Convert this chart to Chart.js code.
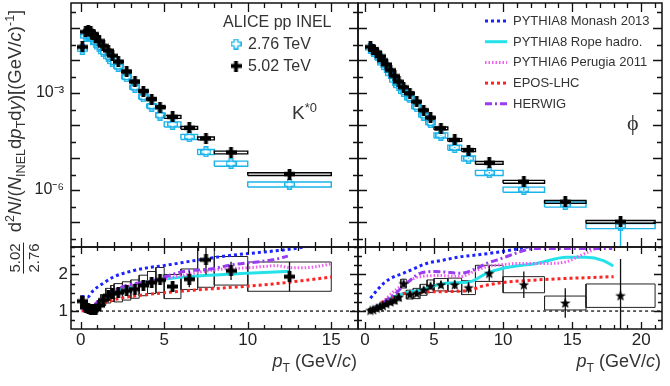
<!DOCTYPE html>
<html>
<head>
<meta charset="utf-8">
<title>K*0 and phi spectra in pp at 2.76 and 5.02 TeV</title>
<script src="https://cdn.jsdelivr.net/npm/chart.js@4.4.1/dist/chart.umd.min.js"></script>
<style>
  html, body { margin: 0; padding: 0; background: #fff; }
  #plot { position: relative; width: 670px; height: 386px; overflow: hidden;
          font-family: 'Liberation Sans', Arial, Helvetica, sans-serif; color: #222; }
  #plot canvas { position: absolute; left: 0; top: 0; }
  .lbl { position: absolute; white-space: nowrap; line-height: 1; z-index: 2; }
  .lbl sub, .lbl sup { font-size: 68%; line-height: 0; }
  .rot { transform: translate(-50%, -50%) rotate(-90deg); }
  .frac { display: inline-flex; flex-direction: column; align-items: center; }
  .frac span:first-child { border-bottom: 1.4px solid #222; padding: 0 1px 1px; }
  .frac span:last-child { padding-top: 2px; }
</style>
</head>
<body>
<div id="plot">
  <canvas id="kstarSpec" width="670" height="386"></canvas>
  <canvas id="phiSpec" width="670" height="386"></canvas>
  <canvas id="kstarRatio" width="670" height="386"></canvas>
  <canvas id="phiRatio" width="670" height="386"></canvas>

  <div class="lbl rot" style="left:15px; top:121px; font-size:18.5px; color:#333;">d<sup>2</sup><i>N</i>/(<i>N</i><sub>INEL</sub>d<i>p</i><sub>T</sub>d<i>y</i>)[(GeV/<i>c</i>)<sup>-1</sup>]</div>
  <div class="lbl rot" style="left:24px; top:258px; font-size:15px; color:#333;"><div class="frac"><span>5.02</span><span>2.76</span></div></div>

  <div class="lbl" style="left:223px; top:14px; font-size:16px; color:#333;">ALICE pp INEL</div>
  <div class="lbl" style="left:248px; top:36px; font-size:16px; color:#333;">2.76 TeV</div>
  <div class="lbl" style="left:248px; top:58px; font-size:16px; color:#333;">5.02 TeV</div>
  <div class="lbl" style="left:292px; top:103px; font-size:19px; color:#333;">K<sup>*0</sup></div>
  <div class="lbl" style="left:627px; top:112px; font-size:22px; color:#333; font-family:'Liberation Serif','DejaVu Serif',serif;">&#981;</div>

  <div id="modelLegend"></div>

  <div class="lbl" style="right:313px; top:352px; font-size:18px; color:#333;"><i>p</i><sub>T</sub> (GeV/<i>c</i>)</div>
  <div class="lbl" style="right:9px; top:352px; font-size:18px; color:#333;"><i>p</i><sub>T</sub> (GeV/<i>c</i>)</div>
</div>

<script>
// ========================================
// DATA
// ========================================

// K*0 pT bin edges (GeV/c) and spectra
const kstarEdges = [0, 0.2, 0.4, 0.5, 0.7, 0.8, 1.0, 1.2, 1.5, 1.8, 2.0, 2.5, 3.0, 3.5, 4.0, 4.5, 5.0, 6.0, 7.0, 8.0, 10.0, 15.0];
const kstar276 = [0.022, 0.056, 0.060, 0.054, 0.045, 0.035, 0.026, 0.0185, 0.0130, 0.0091, 0.0066, 0.0031, 0.00148, 7.5e-4, 3.9e-4, 2.05e-4, 1.07e-4, 4.4e-5, 1.5e-5, 6.6e-6, 1.5e-6];
const kstar502 = [0.026, 0.076, 0.081, 0.076, 0.065, 0.051, 0.040, 0.028, 0.020, 0.0139, 0.0091, 0.0045, 0.0022, 0.00113, 6.4e-4, 3.6e-4, 1.8e-4, 8.3e-5, 3.9e-5, 1.44e-5, 3.1e-6];
const kstarRatio = [1.27, 1.1, 1.07, 1.04, 1.03, 1.05, 1.15, 1.3, 1.42, 1.48, 1.5, 1.55, 1.6, 1.7, 1.78, 1.85, 1.67, 1.87, 2.4, 2.1, 1.94];
const kstarRatioStat = [0.05, 0.04, 0.03, 0.03, 0.03, 0.03, 0.03, 0.03, 0.03, 0.04, 0.04, 0.05, 0.06, 0.07, 0.08, 0.1, 0.12, 0.22, 0.4, 0.25, 0.4];
const kstarRatioSys = [0.15, 0.1, 0.08, 0.08, 0.08, 0.1, 0.12, 0.15, 0.2, 0.22, 0.25, 0.25, 0.25, 0.28, 0.3, 0.34, 0.33, 0.28, 0.75, 0.39, 0.4];

// phi pT bin edges (GeV/c) and spectra
const phiEdges = [0.3, 0.5, 0.7, 1.0, 1.2, 1.4, 1.7, 2.0, 2.3, 2.6, 3.0, 3.5, 4.0, 4.5, 5.0, 6.0, 7.0, 8.0, 10.0, 13.0, 16.0, 21.0];
const phi276 = [0.024, 0.0195, 0.0151, 0.0114, 0.0083, 0.0060, 0.0039, 0.00245, 0.00166, 0.00109, 6.9e-4, 3.7e-4, 2.05e-4, 1.19e-4, 4.9e-5, 2.05e-5, 9.5e-6, 3.4e-6, 1.04e-6, 3.6e-7, 7.8e-8];
const phi276StatRel = [0.01, 0.01, 0.01, 0.01, 0.01, 0.01, 0.01, 0.01, 0.01, 0.01, 0.01, 0.01, 0.01, 0.02, 0.02, 0.03, 0.04, 0.06, 0.1, 0.2, 0.95];
const phi502 = [0.026, 0.022, 0.0177, 0.0135, 0.0102, 0.0075, 0.0050, 0.0033, 0.0022, 0.00148, 9.6e-4, 5.3e-4, 2.9e-4, 1.7e-4, 8.0e-5, 3.5e-5, 1.7e-5, 6.9e-6, 1.8e-6, 4.3e-7, 1.04e-7];
const phiRatio = [1.02, 1.04, 1.08, 1.12, 1.15, 1.2, 1.25, 1.3, 1.38, 1.75, 1.45, 1.48, 1.58, 1.68, 1.72, 1.72, 1.64, 2.03, 1.72, 1.22, 1.42];
const phiRatioStat = [0.02, 0.02, 0.02, 0.02, 0.02, 0.03, 0.03, 0.04, 0.05, 0.08, 0.06, 0.07, 0.08, 0.09, 0.1, 0.12, 0.15, 0.2, 0.36, 0.4, 1.0];
const phiRatioSys = [0.05, 0.05, 0.06, 0.06, 0.07, 0.08, 0.08, 0.1, 0.1, 0.12, 0.12, 0.14, 0.15, 0.17, 0.17, 0.18, 0.19, 0.22, 0.22, 0.19, 0.32];

// relative systematic uncertainty of the spectra (box heights)
const sysRel502 = 0.1;
const sysRel276 = 0.18;

// model ratios 5.02/2.76, K*0
const monashKPt = [0.05, 0.4, 0.75, 1.35, 1.95, 2.95, 3.95, 4.95, 6.95, 8.95, 10.9, 12.7, 13.9];
const monashK = [1.4, 1.38, 1.56, 1.76, 1.93, 2.08, 2.18, 2.24, 2.39, 2.52, 2.61, 2.7, 2.79];
const ropeKPt = [0.05, 0.55, 1.35, 2.35, 3.75, 5.55, 7.75, 9.95, 12.5];
const ropeK = [1.1, 1.06, 1.33, 1.57, 1.78, 1.9, 1.98, 2.03, 2.09];
const perugiaKPt = [0.1, 0.5, 1.0, 1.75, 2.75, 3.75, 4.75, 6.0, 7.35, 8.5, 9.95, 11.0, 11.7, 12.7, 13.9, 15.0];
const perugiaK = [1.05, 1.05, 1.25, 1.47, 1.66, 1.78, 1.86, 1.97, 2.08, 2.15, 2.18, 2.22, 2.24, 2.18, 2.2, 2.29];
const eposKPt = [0.05, 0.5, 1.55, 2.5, 3.75, 5.0, 6.75, 8.5, 9.95, 11.5, 12.7, 15.0];
const eposK = [1.0, 1.04, 1.25, 1.36, 1.44, 1.5, 1.57, 1.63, 1.68, 1.74, 1.8, 1.93];
const herwigKPt = [0.1, 0.5, 1.0, 1.75, 2.75, 4.15, 6.15, 7.75, 9.15, 11.5, 12.4];
const herwigK = [1.05, 1.05, 1.25, 1.49, 1.7, 1.81, 2.08, 2.15, 2.27, 2.4, 2.5];

// model ratios 5.02/2.76, phi
const monashPhiPt = [0.4, 0.9, 1.33, 2.0, 2.77, 3.5, 4.46, 5.5, 6.87, 8.0, 9.28, 11.2, 12.1];
const monashPhi = [1.35, 1.58, 1.75, 1.92, 2.03, 2.15, 2.3, 2.38, 2.48, 2.53, 2.59, 2.71, 2.78];
const ropePhiPt = [0.45, 1.2, 2.05, 3.0, 3.98, 5.67, 7.0, 7.6, 8.8, 10.0, 12.4, 14.6, 16.0, 17.25, 17.97];
const ropePhi = [1.05, 1.2, 1.38, 1.5, 1.57, 1.75, 1.78, 1.8, 2.03, 2.17, 2.3, 2.47, 2.47, 2.38, 2.23];
const perugiaPhiPt = [0.45, 1.2, 2.05, 3.0, 3.98, 5.5, 6.87, 8.0, 8.8, 10.0, 11.2, 13.15, 14.6, 15.5, 16.5, 17.2];
const perugiaPhi = [1.02, 1.22, 1.52, 1.78, 1.94, 1.97, 1.94, 2.1, 2.21, 2.27, 2.3, 2.3, 2.35, 2.5, 2.67, 2.8];
const eposPhiPt = [0.45, 1.5, 2.5, 3.3, 5.5, 7.6, 8.5, 10.0, 12.0, 14.0, 18.0];
const eposPhi = [1.02, 1.3, 1.45, 1.5, 1.53, 1.57, 1.68, 1.78, 1.84, 1.88, 1.94];
const herwigPhiPt = [0.45, 1.2, 2.05, 3.0, 3.98, 5.0, 5.67, 6.87, 8.0, 8.8, 10.0, 11.0, 12.2, 13.6, 16.0, 17.9];
const herwigPhi = [1.02, 1.2, 1.43, 1.75, 2.03, 2.08, 2.07, 2.03, 2.15, 2.3, 2.45, 2.59, 2.71, 2.71, 2.71, 2.71];

// tick labels
const xTicksLeft = [0, 5, 10, 15];
const xTicksRight = [0, 5, 10, 15, 20];
const yTicksSpectra = [1e-3, 1e-6];
const yTicksRatio = [1, 2];

// ========================================
// STYLES
// ========================================

const CYAN = '#1bb4ea';
const BLACK = '#000';

const models = [
    { label: 'PYTHIA8 Monash 2013', color: '#1c22ff', dash: [3, 3], k: [monashKPt, monashK], phi: [monashPhiPt, monashPhi] },
    { label: 'PYTHIA8 Rope hadro.', color: '#25e2ea', dash: [], k: [ropeKPt, ropeK], phi: [ropePhiPt, ropePhi] },
    { label: 'PYTHIA6 Perugia 2011', color: '#f05ef0', dash: [1.5, 2], k: [perugiaKPt, perugiaK], phi: [perugiaPhiPt, perugiaPhi] },
    { label: 'EPOS-LHC', color: '#ff2424', dash: [3, 3], k: [eposKPt, eposK], phi: [eposPhiPt, eposPhi] },
    { label: 'HERWIG', color: '#9a3cf2', dash: [7, 3, 2, 3], k: [herwigKPt, herwigK], phi: [herwigPhiPt, herwigPhi] }
];

Chart.defaults.font.family = "'Liberation Sans', Arial, Helvetica, sans-serif";
Chart.defaults.color = '#222';

// ========================================
// MARKERS
// ========================================

function markerCross(color, filled) {
    const s = 11, a = 3.6, b = 7.4;
    const p = filled ? 0 : 0.7;
    const c = document.createElement('canvas');
    c.width = s; c.height = s;
    const g = c.getContext('2d');
    g.beginPath();
    g.moveTo(a, p); g.lineTo(b, p); g.lineTo(b, a); g.lineTo(s - p, a); g.lineTo(s - p, b);
    g.lineTo(b, b); g.lineTo(b, s - p); g.lineTo(a, s - p); g.lineTo(a, b); g.lineTo(p, b);
    g.lineTo(p, a); g.lineTo(a, a); g.closePath();
    if (filled) {
        g.fillStyle = color; g.fill();
    } else {
        g.strokeStyle = color; g.lineWidth = 1.4; g.stroke();
    }
    return c;
}

function markerStar(color) {
    const c = document.createElement('canvas');
    c.width = 12; c.height = 12;
    const g = c.getContext('2d');
    g.beginPath();
    for (let k = 0; k < 10; k++) {
        const r = k % 2 ? 2.3 : 5.6;
        const ang = -Math.PI / 2 + k * Math.PI / 5;
        g.lineTo(6 + r * Math.cos(ang), 6.4 + r * Math.sin(ang));
    }
    g.closePath();
    g.fillStyle = color; g.fill();
    return c;
}

const fullCross = markerCross(BLACK, true);
const openCross = markerCross(CYAN, false);
const fullStar = markerStar(BLACK);

// ========================================
// DATASET HELPERS
// ========================================

const centers = edges => edges.slice(0, -1).map((e, i) => (e + edges[i + 1]) / 2);

function boxOutline(edges, vals, lo, hi) {
    const pts = [];
    vals.forEach((v, i) => {
        const x0 = edges[i], x1 = edges[i + 1], y0 = lo(v, i), y1 = hi(v, i);
        pts.push({ x: x0, y: y0 }, { x: x1, y: y0 }, { x: x1, y: y1 }, { x: x0, y: y1 }, { x: x0, y: y0 }, { x: x0, y: null });
    });
    return pts;
}

function errorBars(xs, vals, lo, hi) {
    const pts = [];
    vals.forEach((v, i) => {
        pts.push({ x: xs[i], y: lo(v, i) }, { x: xs[i], y: hi(v, i) }, { x: xs[i], y: null });
    });
    return pts;
}

function lineSet(points, color, width, dash, order) {
    return {
        type: 'line', data: points, borderColor: color, borderWidth: width, borderDash: dash || [],
        pointRadius: 0, fill: false, tension: 0, spanGaps: false, order: order
    };
}

function curveSet(xs, ys, m, order) {
    return {
        type: 'line', data: xs.map((x, i) => ({ x: x, y: ys[i] })), borderColor: m.color, borderWidth: 3,
        borderDash: m.dash, borderCapStyle: 'butt', pointRadius: 0, fill: false,
        cubicInterpolationMode: 'monotone', order: order
    };
}

function markerSet(xs, ys, img, order) {
    return {
        type: 'scatter', data: xs.map((x, i) => ({ x: x, y: ys[i] })),
        pointStyle: img, pointRadius: 5, order: order
    };
}

// ========================================
// FRAME WITH INSIDE TICKS
// ========================================

function framePlugin(spec) {
    return {
        id: 'frame',
        afterDatasetsDraw(chart) {
            const ctx = chart.ctx, a = chart.chartArea;
            const xs = chart.scales.x, ys = chart.scales.y;
            ctx.save();
            ctx.strokeStyle = '#111';
            ctx.lineWidth = 1.3;
            ctx.beginPath();
            const xt = (v, len) => {
                const px = Math.round(xs.getPixelForValue(v)) + 0.5;
                if (px < a.left || px > a.right) return;
                ctx.moveTo(px, a.bottom); ctx.lineTo(px, a.bottom - len);
                ctx.moveTo(px, a.top); ctx.lineTo(px, a.top + len);
            };
            const yt = (v, len) => {
                const py = Math.round(ys.getPixelForValue(v)) + 0.5;
                if (py < a.top || py > a.bottom) return;
                ctx.moveTo(a.left, py); ctx.lineTo(a.left + len, py);
                ctx.moveTo(a.right, py); ctx.lineTo(a.right - len, py);
            };
            spec.xMajor.forEach(v => xt(v, spec.xLen[0]));
            spec.xMinor.forEach(v => xt(v, spec.xLen[1]));
            spec.yMajor.forEach(v => yt(v, spec.yLen[0]));
            spec.yMinor.forEach(v => yt(v, spec.yLen[1]));
            ctx.stroke();
            ctx.lineWidth = 1.5;
            ctx.strokeRect(a.left, a.top, a.right - a.left, a.bottom - a.top);
            ctx.restore();
        }
    };
}

const intTicks = n => Array.from({ length: n + 1 }, (_, i) => i);
const decades = [1e-8, 1e-7, 1e-6, 1e-5, 1e-4, 1e-3, 1e-2, 1e-1];
const halfDecades = decades.map(d => d * 3);
const ratioMinor = [0.5, 0.75, 1.25, 1.5, 1.75, 2.25, 2.5, 2.75];

const SUP = { '-': '\u207B', '0': '\u2070', '1': '\u00B9', '2': '\u00B2', '3': '\u00B3', '4': '\u2074', '5': '\u2075', '6': '\u2076', '7': '\u2077', '8': '\u2078', '9': '\u2079' };
const powLabel = v => '10' + String(Math.round(Math.log10(v))).split('').map(ch => SUP[ch]).join('');

// ========================================
// AXES
// ========================================

const X_LEFT = { min: -0.58, max: 16.6 };
const X_RIGHT = { min: -0.5, max: 21.5 };
const Y_SPEC = { min: Math.pow(10, -7.76), max: Math.pow(10, -0.23) };
const Y_RATIO = { min: 0.51, max: 2.75 };

// the frames are placed by the layout padding, so the scales must not add their own
function noScalePadding(s) {
    s.paddingTop = 0; s.paddingBottom = 0; s.paddingLeft = 0; s.paddingRight = 0;
}

function hiddenX(range) {
    return { type: 'linear', min: range.min, max: range.max, display: false };
}

function shownX(range, ticks) {
    return {
        type: 'linear', position: 'bottom', min: range.min, max: range.max,
        afterFit: s => { s.height = 57; noScalePadding(s); },
        afterBuildTicks: s => { s.ticks = ticks.map(v => ({ value: v })); },
        ticks: { font: { size: 17 }, color: '#222', padding: 1, maxRotation: 0, autoSkip: false },
        grid: { display: false, drawTicks: false }, border: { display: false }
    };
}

function shownY(type, range, ticks, fmt, size, pad) {
    return {
        type: type, position: 'left', min: range.min, max: range.max,
        afterFit: s => { s.width = 71; noScalePadding(s); },
        afterBuildTicks: s => { s.ticks = ticks.map(v => ({ value: v })); },
        ticks: { font: { size: size }, color: '#222', padding: pad, autoSkip: false, callback: fmt },
        grid: { display: false, drawTicks: false }, border: { display: false }
    };
}

function hiddenY(type, range) {
    return { type: type, min: range.min, max: range.max, display: false };
}

function baseOptions(padding, scales) {
    return {
        responsive: false, animation: false, devicePixelRatio: 1,
        layout: { padding: padding, autoPadding: false },
        plugins: { legend: { display: false }, tooltip: { enabled: false } },
        scales: scales
    };
}

// ========================================
// SPECTRA PANELS
// ========================================

function spectraDatasets(edges, v276, v502) {
    const pt = centers(edges);
    return [
        lineSet(boxOutline(edges, v276, v => v * (1 - sysRel276), v => v * (1 + sysRel276)), CYAN, 1.4, [], 6),
        lineSet(boxOutline(edges, v502, v => v * (1 - sysRel502), v => v * (1 + sysRel502)), BLACK, 1.4, [], 5),
        markerSet(pt, v276, openCross, 3),
        markerSet(pt, v502, fullCross, 1)
    ];
}

new Chart(document.getElementById('kstarSpec'), {
    type: 'scatter',
    data: { datasets: spectraDatasets(kstarEdges, kstar276, kstar502) },
    options: baseOptions({ left: 0, top: 3, right: 312, bottom: 139 }, {
        x: hiddenX(X_LEFT),
        y: shownY('logarithmic', Y_SPEC, yTicksSpectra, v => powLabel(v), 16, 7)
    }),
    plugins: [
        framePlugin({ xMajor: xTicksLeft, xMinor: intTicks(16), xLen: [9, 5], yMajor: decades, yMinor: halfDecades, yLen: [9, 5] }),
        {
            id: 'dataLegend',
            afterDraw(chart) {
                const ctx = chart.ctx;
                ctx.drawImage(openCross, 236 - 5.5, 44 - 5.5);
                ctx.drawImage(fullCross, 236 - 5.5, 66 - 5.5);
            }
        }
    ]
});

const phiSpecSets = spectraDatasets(phiEdges, phi276, phi502);
phiSpecSets.push(lineSet(errorBars(centers(phiEdges), phi276, (v, i) => v * (1 - phi276StatRel[i]), (v, i) => v * (1 + phi276StatRel[i])), CYAN, 1.4, [], 4));

new Chart(document.getElementById('phiSpec'), {
    type: 'scatter',
    data: { datasets: phiSpecSets },
    options: baseOptions({ left: 358, top: 3, right: 8, bottom: 139 }, {
        x: hiddenX(X_RIGHT),
        y: hiddenY('logarithmic', Y_SPEC)
    }),
    plugins: [
        framePlugin({ xMajor: xTicksRight, xMinor: intTicks(21), xLen: [9, 5], yMajor: decades, yMinor: halfDecades, yLen: [9, 5] }),
        {
            id: 'modelLegend',
            afterDraw(chart) {
                const ctx = chart.ctx;
                models.forEach((m, i) => {
                    const y = 21 + i * 20.7;
                    ctx.save();
                    ctx.strokeStyle = m.color;
                    ctx.lineWidth = 3;
                    ctx.setLineDash(m.dash);
                    ctx.beginPath();
                    ctx.moveTo(485, y); ctx.lineTo(507, y);
                    ctx.stroke();
                    ctx.restore();
                });
            }
        }
    ]
});

// legend text for the model curves
const legendBox = document.getElementById('modelLegend');
models.forEach((m, i) => {
    const d = document.createElement('div');
    d.className = 'lbl';
    d.style.cssText = 'left:513px; top:' + (14 + i * 20.7) + 'px; font-size:13px; color:#333;';
    d.textContent = m.label;
    legendBox.appendChild(d);
});

// ========================================
// RATIO PANELS
// ========================================

function ratioDatasets(edges, ratio, stat, sys, marker, key) {
    const pt = centers(edges);
    const sets = [
        lineSet([{ x: -1, y: 1 }, { x: 22, y: 1 }], '#333', 1.5, [3, 3], 20),
        lineSet(boxOutline(edges, ratio, (v, i) => v - sys[i], (v, i) => v + sys[i]), '#222', 1, [], 15),
        lineSet(errorBars(pt, ratio, (v, i) => v - stat[i], (v, i) => v + stat[i]), '#111', 1.3, [], 2),
        markerSet(pt, ratio, marker, 1)
    ];
    models.forEach((m, i) => sets.push(curveSet(m[key][0], m[key][1], m, 10 - i)));
    return sets;
}

new Chart(document.getElementById('kstarRatio'), {
    type: 'scatter',
    data: { datasets: ratioDatasets(kstarEdges, kstarRatio, kstarRatioStat, kstarRatioSys, fullCross, 'k') },
    options: baseOptions({ left: 0, top: 247, right: 312, bottom: 0 }, {
        x: shownX(X_LEFT, xTicksLeft),
        y: shownY('linear', Y_RATIO, yTicksRatio, v => String(v), 17, 3)
    }),
    plugins: [framePlugin({ xMajor: xTicksLeft, xMinor: intTicks(16), xLen: [7, 4], yMajor: yTicksRatio, yMinor: ratioMinor, yLen: [8, 4] })]
});

new Chart(document.getElementById('phiRatio'), {
    type: 'scatter',
    data: { datasets: ratioDatasets(phiEdges, phiRatio, phiRatioStat, phiRatioSys, fullStar, 'phi') },
    options: baseOptions({ left: 358, top: 247, right: 8, bottom: 0 }, {
        x: shownX(X_RIGHT, xTicksRight),
        y: hiddenY('linear', Y_RATIO)
    }),
    plugins: [framePlugin({ xMajor: xTicksRight, xMinor: intTicks(21), xLen: [7, 4], yMajor: yTicksRatio, yMinor: ratioMinor, yLen: [8, 4] })]
});
</script>
</body>
</html>
